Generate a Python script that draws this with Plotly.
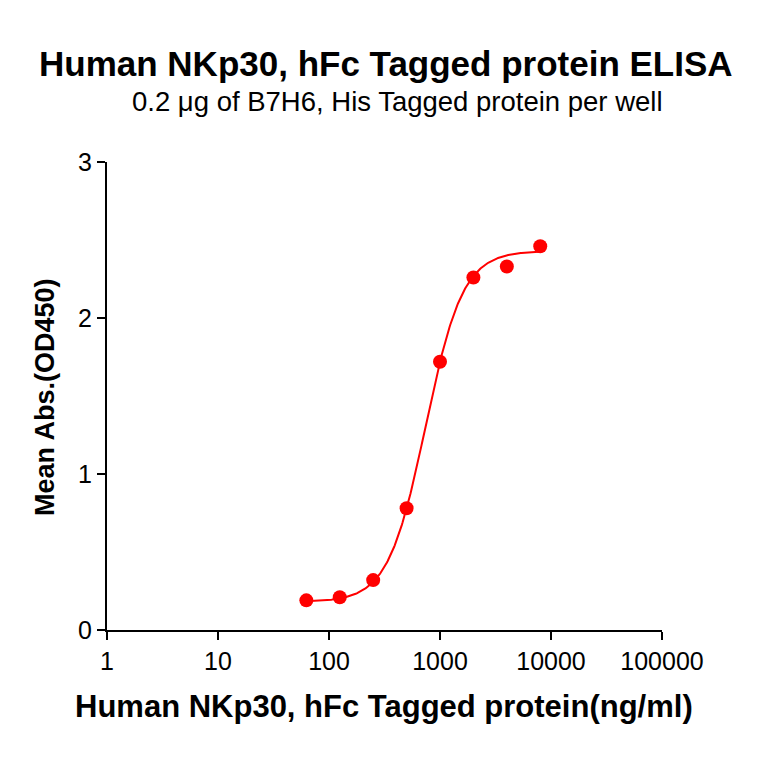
import numpy as np
import plotly.graph_objects as go

conc = [62.5, 125, 250, 500, 1000, 2000, 4000, 8000]
absorb = [0.19, 0.21, 0.32, 0.78, 1.72, 2.26, 2.33, 2.46]
x_ticks = [1, 10, 100, 1000, 10000, 100000]
x_ticktext = ["1", "10", "100", "1000", "10000", "100000"]
y_ticks = [0, 1, 2, 3]

# 4PL fit parameters (estimated from the fitted curve)
fit_bottom = 0.18
fit_top = 2.43
fit_ec50 = 741
fit_hill = 2.58

xf = np.logspace(np.log10(conc[0]), np.log10(conc[-1]), 300)
yf = fit_bottom + (fit_top - fit_bottom) / (1 + (fit_ec50 / xf) ** fit_hill)

FONT = "Liberation Sans, Arial, sans-serif"
W = H = 764
L, R, T, B = 99, 110, 154, 142
PW, PH = W - L - R, H - T - B


def py(fig_y):
    return (H - B - fig_y) / PH


def px(fig_x):
    return (fig_x - L) / PW


def ann(text, x, y, size, angle=0):
    return dict(text=text, x=px(x), y=py(y), xref="paper", yref="paper",
                xanchor="center", yanchor="middle", textangle=angle,
                showarrow=False, font=dict(size=size, family=FONT))


fig = go.Figure()
fig.add_trace(go.Scatter(x=xf, y=yf, mode="lines", line=dict(color="#ff0000", width=2),
                         hoverinfo="skip", showlegend=False))
fig.add_trace(go.Scatter(x=conc, y=absorb, mode="markers",
                         marker=dict(color="#ff0000", size=14), showlegend=False))

fig.update_layout(
    width=W, height=H,
    paper_bgcolor="white", plot_bgcolor="white",
    margin=dict(l=L, r=R, t=T, b=B),
    font=dict(family=FONT, color="black"),
    annotations=[
        ann("<b>Human NKp30, hFc Tagged protein ELISA</b>", 377.5, 55, 35),
        ann("0.2 μg of B7H6, His Tagged protein per well", 389, 93, 27.5),
        ann("<b>Human NKp30, hFc Tagged protein(ng/ml)</b>", 376, 698, 31),
        ann("<b>Mean Abs.(OD450)</b>", 37, 389, 27, -90),
    ],
)

fig.update_xaxes(type="log", range=[0, 5], showgrid=False, zeroline=False,
                 showline=True, linecolor="black", linewidth=2,
                 ticks="outside", ticklen=8, tickwidth=2, tickcolor="black",
                 tickvals=x_ticks, ticktext=x_ticktext,
                 tickfont=dict(size=25, family=FONT))
fig.update_yaxes(range=[0, 3], showgrid=False, zeroline=False,
                 showline=True, linecolor="black", linewidth=2,
                 ticks="outside", ticklen=8, tickwidth=2, tickcolor="black",
                 tickvals=y_ticks, tickfont=dict(size=25, family=FONT))

fig.write_html("out.html")
